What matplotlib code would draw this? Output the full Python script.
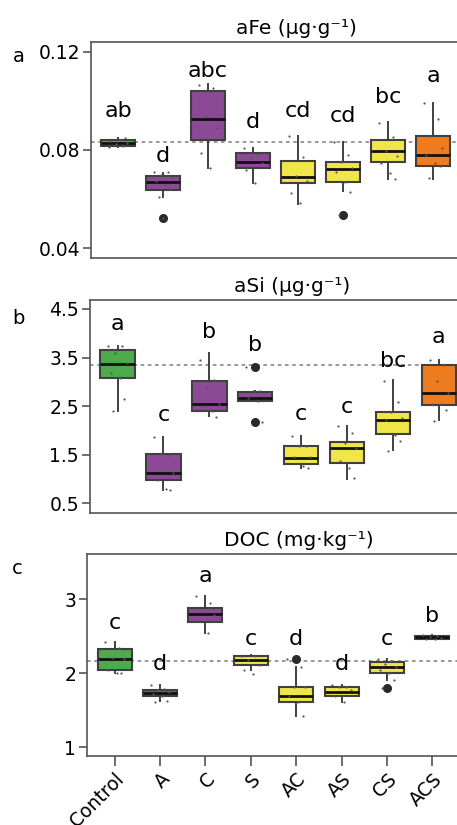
import matplotlib
matplotlib.use('Agg')
import matplotlib.pyplot as plt
import numpy as np

groups = ['Control', 'A', 'C', 'S', 'AC', 'AS', 'CS', 'ACS']

# aFe
fe_med = [0.0830, 0.0670, 0.0927, 0.0750, 0.0689, 0.0724, 0.0796, 0.0780]
fe_q1 = [0.0818, 0.0637, 0.0839, 0.0728, 0.0665, 0.0671, 0.0751, 0.0736]
fe_q3 = [0.0841, 0.0695, 0.1040, 0.0789, 0.0755, 0.0752, 0.0839, 0.0857]
fe_lo = [0.0812, 0.0608, 0.0728, 0.0667, 0.0580, 0.0633, 0.0682, 0.0682]
fe_hi = [0.0848, 0.0708, 0.1067, 0.0807, 0.0858, 0.0833, 0.0913, 0.0993]
fe_out = [[], [0.0522], [], [], [], [0.0536], [], []]
fe_pts = [[0.0812, 0.0818, 0.0825, 0.0830, 0.0836, 0.0842, 0.0848],
          [0.0709, 0.0712, 0.0698, 0.0685, 0.0674, 0.0658, 0.0640, 0.0608, 0.0522],
          [0.1064, 0.1051, 0.0940, 0.0888, 0.0787, 0.0728],
          [0.0807, 0.0780, 0.0766, 0.0746, 0.0719, 0.0667],
          [0.0858, 0.0770, 0.0692, 0.0675, 0.0625, 0.0583],
          [0.0831, 0.0780, 0.0752, 0.0726, 0.0712, 0.0671, 0.0630, 0.0536],
          [0.0911, 0.0852, 0.0796, 0.0777, 0.0748, 0.0708, 0.0683],
          [0.0993, 0.0925, 0.0857, 0.0807, 0.0780, 0.0748, 0.0735, 0.0685]]
fe_letters = ['ab', 'd', 'abc', 'd', 'cd', 'cd', 'bc', 'a']
fe_letter_y = [0.0933, 0.0752, 0.1096, 0.0888, 0.0936, 0.0913, 0.0993, 0.1076]
fe_ref = 0.0831

# aSi
si_med = [3.36, 1.13, 2.55, 2.67, 1.44, 1.63, 2.22, 2.78]
si_q1 = [3.07, 0.98, 2.39, 2.61, 1.31, 1.33, 1.92, 2.52]
si_q3 = [3.65, 1.51, 3.02, 2.80, 1.68, 1.76, 2.37, 3.34]
si_lo = [2.39, 0.78, 2.30, 2.61, 1.22, 1.00, 1.60, 2.22]
si_hi = [3.74, 1.87, 3.59, 2.82, 1.89, 2.09, 3.04, 3.45]
si_out = [[], [], [], [3.31, 2.17], [], [], [], []]
si_pts = [[3.74, 3.74, 3.60, 3.38, 3.19, 3.07, 2.64, 2.39],
          [1.87, 1.50, 1.52, 1.12, 0.98, 0.79, 0.78],
          [3.45, 3.03, 2.87, 2.55, 2.50, 2.40, 2.28],
          [3.31, 2.82, 2.81, 2.70, 2.66, 2.61, 2.17],
          [1.89, 1.68, 1.67, 1.46, 1.45, 1.26, 1.22],
          [2.09, 1.94, 1.75, 1.63, 1.38, 1.22, 1.02],
          [3.02, 2.59, 2.37, 2.26, 2.22, 1.91, 1.79, 1.58],
          [3.45, 3.35, 3.02, 2.78, 2.55, 2.55, 2.42, 2.20]]
si_letters = ['a', 'c', 'b', 'b', 'c', 'c', 'bc', 'a']
si_letter_y = [4.07, 2.20, 3.91, 3.64, 2.22, 2.35, 3.31, 3.79]
si_ref = 3.35

# DOC
doc_med = [2.20, 1.73, 2.80, 2.18, 1.69, 1.75, 2.09, 2.49]
doc_q1 = [2.05, 1.70, 2.69, 2.12, 1.62, 1.70, 2.01, 2.47]
doc_q3 = [2.33, 1.77, 2.89, 2.24, 1.82, 1.81, 2.15, 2.51]
doc_lo = [2.00, 1.63, 2.54, 2.04, 1.42, 1.62, 1.91, 2.46]
doc_hi = [2.42, 1.84, 3.05, 2.25, 2.09, 1.84, 2.19, 2.52]
doc_out = [[], [], [], [], [2.19], [], [1.80], []]
doc_pts = [[2.42, 2.35, 2.21, 2.20, 2.04, 2.00, 2.00],
           [1.84, 1.79, 1.77, 1.75, 1.72, 1.69, 1.63, 1.61],
           [3.05, 2.95, 2.83, 2.79, 2.72, 2.54],
           [2.24, 2.23, 2.18, 2.12, 2.04, 1.99],
           [2.19, 2.09, 1.81, 1.81, 1.69, 1.61, 1.42],
           [1.84, 1.82, 1.81, 1.77, 1.70, 1.62],
           [2.19, 2.17, 2.13, 2.09, 2.04, 2.01, 1.91, 1.80],
           [2.52, 2.50, 2.49, 2.48, 2.47, 2.46]]
doc_letters = ['c', 'd', 'a', 'c', 'd', 'd', 'c', 'b']
doc_letter_y = [2.60, 2.04, 3.24, 2.38, 2.38, 2.04, 2.38, 2.70]
doc_ref = 2.17

GREEN = '#4dab4b'
PURPLE = '#8c4a96'
YELLOW = '#f0e64a'
ORANGE = '#ef7d1f'
cols_ab = [GREEN, PURPLE, PURPLE, PURPLE, YELLOW, YELLOW, YELLOW, ORANGE]
cols_c = [GREEN, PURPLE, PURPLE, YELLOW, YELLOW, YELLOW, YELLOW, ORANGE]

W, H = 457, 825
fig = plt.figure(figsize=(W / 100, H / 100), dpi=100)
plt.rcParams['font.family'] = 'DejaVu Sans'

jitter = [-0.2, 0.1, -0.05, 0.2, -0.15, 0.05, 0.15, -0.1, 0.0]


def make_axes(left, top, bottom, step):
    # pixel geometry -> figure coords; xlim is 0.4..8.6
    width = 8.2 * step
    return fig.add_axes([left / W, 1 - bottom / H, width / W, (bottom - top) / H])


def panel(ax, med, q1, q3, lo, hi, out, pts, cols, letters, letter_y, ref, ylim, yticks, ytl):
    pos = np.arange(1, len(groups) + 1)
    stats = []
    for i in range(len(groups)):
        stats.append(dict(med=med[i], q1=q1[i], q3=q3[i], whislo=lo[i], whishi=hi[i], fliers=out[i]))
    ax.axhline(ref, color='#9c8c84', lw=1.3, ls=(0, (2, 2)), zorder=1)
    bp = ax.bxp(stats, positions=pos, widths=0.75, patch_artist=True, showcaps=False,
                boxprops=dict(edgecolor='#404040', linewidth=1.5),
                medianprops=dict(color='#111111', linewidth=2.0),
                whiskerprops=dict(color='#404040', linewidth=1.4),
                flierprops=dict(marker='o', markerfacecolor='#2a2a2a', markeredgecolor='#2a2a2a',
                                markersize=5.5))
    for patch, c in zip(bp['boxes'], cols):
        patch.set_facecolor(c)
        patch.set_zorder(2)
    for i, p in enumerate(pts):
        xs = [pos[i] + jitter[k % len(jitter)] for k in range(len(p))]
        ax.scatter(xs, p, s=2.5, color='#555555', zorder=4, linewidths=0)
    for i, (t, y) in enumerate(zip(letters, letter_y)):
        ax.text(pos[i], y, t, ha='center', va='baseline', fontsize=16)
    ax.set_xlim(0.4, 8.6)
    ax.set_ylim(*ylim)
    ax.set_yticks(yticks)
    ax.set_yticklabels(ytl, fontsize=13.5)
    for s in ax.spines.values():
        s.set_color('#555555')
        s.set_linewidth(1.2)
    ax.tick_params(axis='y', direction='out', length=6, width=1.2, color='#555555', pad=2)


ax1 = make_axes(91, 42.3, 258.3, 45.0)
panel(ax1, fe_med, fe_q1, fe_q3, fe_lo, fe_hi, fe_out, fe_pts, cols_ab, fe_letters, fe_letter_y,
      fe_ref, (0.0359, 0.1238), [0.04, 0.08, 0.12], ['0.04', '0.08', '0.12'])
ax1.set_xticks([])

ax2 = make_axes(90, 300, 513.3, 45.9)
panel(ax2, si_med, si_q1, si_q3, si_lo, si_hi, si_out, si_pts, cols_ab, si_letters, si_letter_y,
      si_ref, (0.294, 4.685), [0.5, 1.5, 2.5, 3.5, 4.5], ['0.5', '1.5', '2.5', '3.5', '4.5'])
ax2.set_xticks([])

ax3 = make_axes(87.3, 554, 755.7, 45.4)
panel(ax3, doc_med, doc_q1, doc_q3, doc_lo, doc_hi, doc_out, doc_pts, cols_c, doc_letters, doc_letter_y,
      doc_ref, (0.887, 3.615), [1, 2, 3], ['1', '2', '3'])
ax3.set_xticks(np.arange(1, len(groups) + 1))
ax3.set_xticklabels(groups, rotation=45, ha='right', rotation_mode='anchor', fontsize=13.5)
ax3.tick_params(axis='x', direction='out', length=7, width=1.2, color='#555555', pad=3)

fig.text(296 / W, 1 - 28 / H, 'aFe (μg·g⁻¹)', ha='center', va='center', fontsize=14.5)
fig.text(292.5 / W, 1 - 286 / H, 'aSi (μg·g⁻¹)', ha='center', va='center', fontsize=14.5)
fig.text(299 / W, 1 - 541 / H, 'DOC (mg·kg⁻¹)', ha='center', va='center', fontsize=14.5)

fig.text(19 / W, 1 - 56 / H, 'a', ha='center', va='center', fontsize=14)
fig.text(18 / W, 1 - 318 / H, 'b', ha='center', va='center', fontsize=14)
fig.text(17 / W, 1 - 569 / H, 'c', ha='center', va='center', fontsize=14)

fig.savefig('out.png', dpi=100)
